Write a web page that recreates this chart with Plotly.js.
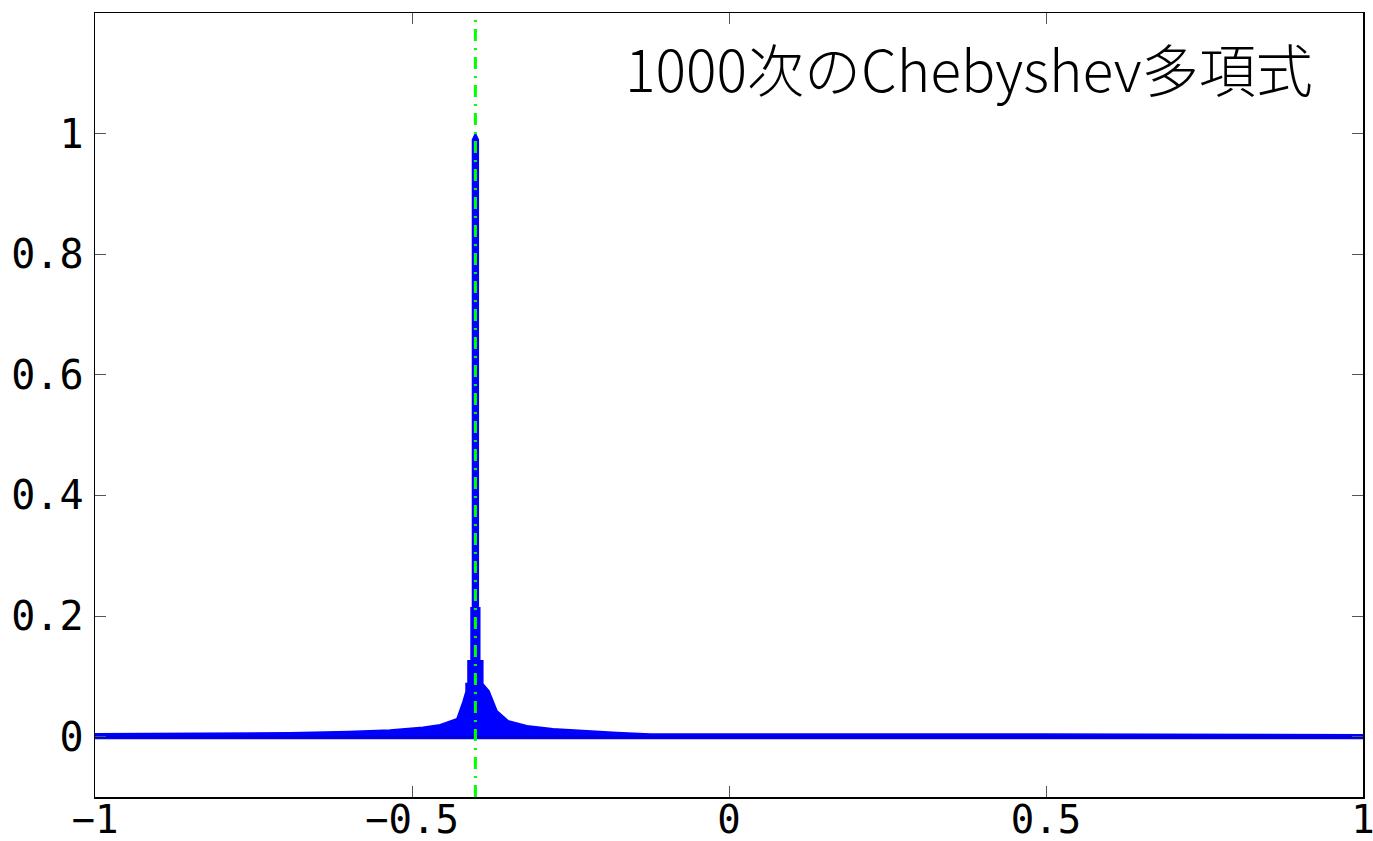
<!DOCTYPE html>
<html>
<head>
<meta charset="utf-8">
<script src="https://cdn.plot.ly/plotly-3.0.1.min.js"></script>
<style>html,body{margin:0;padding:0;background:#fff;}#chart{width:1373px;height:841px;}</style>
</head>
<body>
<div id="chart"></div>
<script>
// Upper envelope of the oscillating degree-1000 cardinal polynomial
const envX = [-1.0, -0.85, -0.6924, -0.6, -0.5347, -0.4826, -0.4558, -0.429, -0.4243, -0.4196, -0.4148, -0.4148, -0.4117, -0.4117, -0.4069, -0.4069, -0.4046, -0.4046, -0.4, -0.3954, -0.3954, -0.3931, -0.3931, -0.3883, -0.3883, -0.3786, -0.366, -0.3486, -0.3186, -0.2776, -0.1767, -0.1246, 0.49, 1.0];
const envUpper = [0.005, 0.0055, 0.0066, 0.0085, 0.011, 0.0155, 0.0199, 0.03, 0.043, 0.058, 0.075, 0.088, 0.088, 0.126, 0.126, 0.214, 0.214, 0.99, 1.0, 0.99, 0.214, 0.214, 0.126, 0.126, 0.088, 0.076, 0.043, 0.0266, 0.018, 0.0133, 0.007, 0.0045, 0.0045, 0.0033];
// Lower envelope
const lowX = [1.0, -1.0];
const lowY = [-0.003, -0.003];
// Interpolation node marker line
const nodeX = [-0.4, -0.4];
const nodeY = [-0.1, 1.2];
const xTicks = [-1, -0.5, 0, 0.5, 1];
const yTicks = [0, 0.2, 0.4, 0.6, 0.8, 1];
const titleText = '1000次のChebyshev多項式';

const polyX = envX.concat(lowX);
const polyY = envUpper.concat(lowY);

const traces = [
  {x: polyX, y: polyY, type: 'scatter', mode: 'lines', fill: 'toself',
   fillcolor: '#0000ff', line: {color: '#0000ff', width: 1.5}, hoverinfo: 'skip'},
  {x: [-1, 1], y: [0, 0], type: 'scatter', mode: 'lines',
   line: {color: '#0000cc', width: 2}, hoverinfo: 'skip'},
  {x: nodeX, y: nodeY, type: 'scatter', mode: 'lines',
   line: {color: '#00ff00', width: 3, dash: '12px,7px,2px,7px'}, hoverinfo: 'skip'}
];

const axisFont = {family: 'DejaVu Sans Mono, monospace', size: 40, color: '#000'};
const layout = {
  width: 1373, height: 841,
  margin: {l: 95, r: 10, t: 13, b: 44},
  paper_bgcolor: '#fff', plot_bgcolor: '#fff',
  showlegend: false,
  xaxis: {range: [-1, 1], tickvals: xTicks, ticks: 'inside', ticklen: 11, tickcolor: '#555',
          showline: true, linecolor: '#000', linewidth: 1.5, mirror: 'ticks',
          showgrid: false, zeroline: false, tickfont: {family: 'DejaVu Sans Mono, monospace', size: 39, color: '#000'},
          ticklabelstandoff: -12, ticklabeloverflow: 'allow'},
  yaxis: {range: [-0.1, 1.2], tickvals: yTicks, ticks: 'inside', ticklen: 11, tickcolor: '#555',
          showline: true, linecolor: '#000', linewidth: 1.5, mirror: 'ticks',
          showgrid: false, zeroline: false, tickfont: axisFont,
          ticklabelstandoff: 2, ticklabeloverflow: 'allow'},
  annotations: [{text: titleText, xref: 'paper', yref: 'paper', x: 0.962, y: 0.931,
                 xanchor: 'right', yanchor: 'middle', showarrow: false,
                 font: {family: 'Noto Sans CJK JP, sans-serif', size: 57, weight: 300, color: '#000'}}]
};

Plotly.newPlot('chart', traces, layout, {displayModeBar: false, staticPlot: true});
</script>
</body>
</html>
